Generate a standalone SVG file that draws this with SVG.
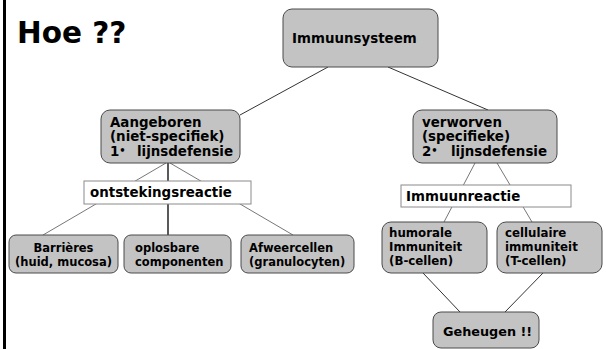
<svg xmlns="http://www.w3.org/2000/svg" width="606" height="349" viewBox="0 0 606 349">
<style>
  .box { fill: #c3c3c3; stroke: #4a4a4a; stroke-width: 1; }
  .wbox { fill: #ffffff; stroke: #8a8a8a; stroke-width: 1; }
  .t { font-family: "DejaVu Sans", Verdana, sans-serif; font-weight: bold; fill: #000; }
  .t13 { font-size: 13.4px; }
  .t12 { font-size: 11.8px; }
  .t115 { font-size: 11.5px; }
  .sup { font-size: 10px; }
  .dark { stroke: #333; stroke-width: 1; fill: none; }
  .light { stroke: #777; stroke-width: 1; fill: none; }
  .blk { stroke: #000; stroke-width: 1.3; fill: none; }
</style>
<rect width="606" height="349" fill="#ffffff"/>
<line x1="4.5" y1="0" x2="4.5" y2="349" stroke="#000" stroke-width="3"/>
<text class="t" x="17" y="43" font-size="29.5px">Hoe ??</text>

<g id="connectors">
  <line class="dark" x1="328" y1="67" x2="240" y2="115"/>
  <line class="dark" x1="388" y1="67" x2="488" y2="110"/>
  <line class="light" x1="166" y1="163" x2="43" y2="235"/>
  <line class="light" x1="170" y1="163" x2="293" y2="235"/>
  <line class="blk" x1="168" y1="163" x2="168" y2="235"/>
  <line class="light" x1="475" y1="163" x2="444" y2="222"/>
  <line class="light" x1="497" y1="163" x2="532" y2="222"/>
  <line class="dark" x1="423" y1="273" x2="460" y2="312"/>
  <line class="dark" x1="543" y1="273" x2="505" y2="312"/>
</g>

<g id="immuunsysteem">
  <rect class="box" x="283" y="9" width="155" height="58" rx="9"/>
  <text class="t t13" x="292" y="43">Immuunsysteem</text>
</g>

<g id="aangeboren">
  <rect class="box" x="101" y="110" width="139" height="53" rx="9"/>
  <text class="t t13"><tspan x="110" y="126.5">Aangeboren</tspan><tspan x="110" y="140.5">(niet-specifiek)</tspan><tspan x="110" y="156">1</tspan><tspan class="sup" y="153.5">•</tspan><tspan x="137" y="156">lijnsdefensie</tspan></text>
</g>

<g id="verworven">
  <rect class="box" x="413" y="110" width="144" height="53" rx="9"/>
  <text class="t t13"><tspan x="422" y="126.5">verworven</tspan><tspan x="422" y="140.5">(specifieke)</tspan><tspan x="422" y="156">2</tspan><tspan class="sup" y="153.5">•</tspan><tspan x="451" y="156">lijnsdefensie</tspan></text>
</g>

<g id="ontstekingsreactie">
  <rect class="wbox" x="84" y="181" width="167" height="23"/>
  <text class="t t13" x="90" y="197">ontstekingsreactie</text>
</g>

<g id="immuunreactie">
  <rect class="wbox" x="401" y="185" width="170" height="22"/>
  <text class="t t13" x="406" y="201">Immuunreactie</text>
</g>

<g id="barrieres">
  <rect class="box" x="9" y="235" width="109" height="38" rx="7"/>
  <text class="t t115" text-anchor="middle"><tspan x="63.5" y="252">Barrières</tspan><tspan x="63.5" y="266">(huid, mucosa)</tspan></text>
</g>

<g id="oplosbare">
  <rect class="box" x="124" y="235" width="107" height="38" rx="7"/>
  <text class="t t115"><tspan x="135" y="252">oplosbare</tspan><tspan x="135" y="266">componenten</tspan></text>
</g>

<g id="afweercellen">
  <rect class="box" x="241" y="235" width="113" height="38" rx="7"/>
  <text class="t t115"><tspan x="249" y="252">Afweercellen</tspan><tspan x="249" y="266">(granulocyten)</tspan></text>
</g>

<g id="humorale">
  <rect class="box" x="382" y="222" width="105" height="51" rx="9"/>
  <text class="t t12"><tspan x="389" y="237">humorale</tspan><tspan x="389" y="251">Immuniteit</tspan><tspan x="389" y="265">(B-cellen)</tspan></text>
</g>

<g id="cellulaire">
  <rect class="box" x="497" y="222" width="105" height="51" rx="9"/>
  <text class="t t12"><tspan x="505" y="237">cellulaire</tspan><tspan x="505" y="251">immuniteit</tspan><tspan x="505" y="265">(T-cellen)</tspan></text>
</g>

<g id="geheugen">
  <rect class="box" x="433" y="312" width="106" height="36" rx="8"/>
  <text class="t" x="443" y="336" font-size="12.8px">Geheugen !!</text>
</g>
</svg>
